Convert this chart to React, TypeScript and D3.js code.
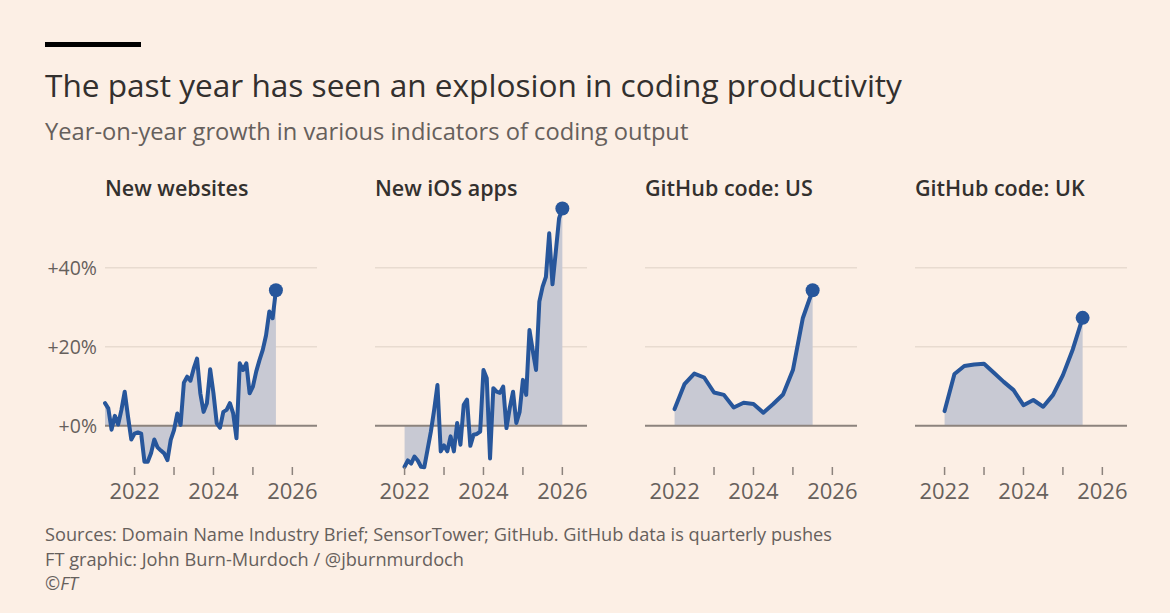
import React from "react";
import * as d3 from "d3";

// ---- data ----
const panelTitles = ["New websites", "New iOS apps", "GitHub code: US", "GitHub code: UK"];

// New websites: monthly, starting April 2021
const websitesStart = 2021.25;
const websites = [
  5.7, 4.4, -1.0, 2.5, 0.3, 4.0, 8.6, 2.3, -3.5, -2.0, -1.7, -2.0, -9.1, -9.1, -7.0, -3.5,
  -5.5, -6.3, -7.0, -8.7, -3.6, -1.1, 3.1, 0.2, 10.9, 12.4, 11.4, 14.5, 17.0, 8.2, 3.5, 5.7,
  14.3, 8.2, 0.6, -0.5, 3.5, 4.0, 5.7, 3.1, -3.2, 15.8, 14.1, 15.8, 8.2, 9.9, 13.7, 16.6,
  19.2, 22.9, 28.9, 27.2, 34.3,
];

// New iOS apps: monthly, starting January 2022
const iosStart = 2022;
const iosApps = [
  -10.4, -8.8, -9.6, -7.8, -8.8, -10.4, -10.5, -6.0, -1.5, 4.0, 10.3, -6.5, -5.0, -6.5, -2.7,
  -6.5, 0.7, -4.8, 5.3, 6.6, -5.1, -2.3, -2.1, -1.5, 14.1, 12.0, -8.3, 9.5, 8.6, 8.3, 9.9,
  -0.6, 4.5, 8.6, 0.7, 3.5, 11.6, 7.8, 24.2, 19.0, 14.1, 31.4, 35.2, 37.7, 48.7, 35.8, 44.0,
  52.5, 55.0,
];

// GitHub pushes: quarterly, starting Q1 2022
const githubStart = 2022;
const githubUS = [4.2, 10.5, 13.2, 12.2, 8.4, 7.8, 4.6, 5.8, 5.5, 3.3, 5.5, 7.9, 14.1, 27.2, 34.3];
const githubUK = [3.7, 13.1, 15.1, 15.5, 15.7, 13.4, 11.1, 9.0, 5.2, 6.5, 4.8, 7.8, 12.8, 19.3, 27.3];

const yTicks = [0, 20, 40];
const yTickLabels = ["+0%", "+20%", "+40%"];
const xTicks = [2022, 2023, 2024, 2025, 2026];
const xTickLabels = ["2022", "", "2024", "", "2026"];

const title = "The past year has seen an explosion in coding productivity";
const subtitle = "Year-on-year growth in various indicators of coding output";
const footer = [
  "Sources: Domain Name Industry Brief; SensorTower; GitHub. GitHub data is quarterly pushes",
  "FT graphic: John Burn-Murdoch / @jburnmurdoch",
];

// ---- build series ----
type Pt = { t: number; v: number };
const monthly = (start: number, vals: number[]): Pt[] => vals.map((v, i) => ({ t: start + i / 12, v }));
const quarterly = (start: number, vals: number[]): Pt[] => vals.map((v, i) => ({ t: start + i / 4, v }));

const series: Pt[][] = [
  monthly(websitesStart, websites),
  monthly(iosStart, iosApps),
  quarterly(githubStart, githubUS),
  quarterly(githubStart, githubUK),
];

// ---- layout ----
const W = 1170;
const H = 613;
const FONT = "'Open Sans', Lato, sans-serif";
const BG = "#fcefe5";
const LINE = "#27569b";
const FILL = "#c8c9d3";
const TEXT = "#33302e";
const MUTED = "#66605c";

const panelLeft = 105;
const panelWidth = 212;
const panelStep = 270;

const y = d3.scaleLinear().domain([-12, 58]).range([473.1, 196.6]);

export default function App() {
  return (
    <svg
      width={W}
      height={H}
      style={{ position: "fixed", left: 0, top: 0, display: "block" }}
      fontFamily={FONT}
    >
      <rect x={0} y={0} width={W} height={H} fill={BG} />
      <rect x={45} y={42} width={96} height={5} fill="#000" />
      <text x={45} y={97} fontSize={31.6} fill={TEXT}>
        {title}
      </text>
      <text x={45} y={140} fontSize={23.7} fill={MUTED}>
        {subtitle}
      </text>

      {series.map((data, p) => {
        const x0 = panelLeft + p * panelStep;
        const x = d3.scaleLinear().domain([2021.25, 2026.625]).range([x0, x0 + panelWidth]);
        const area = d3
          .area<Pt>()
          .x((d) => x(d.t))
          .y0(y(0))
          .y1((d) => y(d.v));
        const line = d3
          .line<Pt>()
          .x((d) => x(d.t))
          .y((d) => y(d.v));
        const last = data[data.length - 1];
        return (
          <g key={p}>
            <text x={x0} y={196} fontSize={21.5} fontWeight={600} fill={TEXT}>
              {panelTitles[p]}
            </text>
            {yTicks
              .filter((t) => t !== 0)
              .map((t) => (
                <line
                  key={t}
                  x1={x0}
                  x2={x0 + panelWidth}
                  y1={y(t)}
                  y2={y(t)}
                  stroke="#e8dbd0"
                  strokeWidth={1.5}
                />
              ))}
            {p === 0 &&
              yTicks.map((t, i) => (
                <text
                  key={t}
                  x={97}
                  y={y(t)}
                  dy="0.35em"
                  textAnchor="end"
                  fontSize={19.5}
                  fill={MUTED}
                >
                  {yTickLabels[i]}
                </text>
              ))}
            <path d={area(data) || ""} fill={FILL} />
            <line x1={x0} x2={x0 + panelWidth} y1={y(0)} y2={y(0)} stroke="#8c837d" strokeWidth={2} />
            <path
              d={line(data) || ""}
              fill="none"
              stroke={LINE}
              strokeWidth={4}
              strokeLinejoin="round"
              strokeLinecap="round"
            />
            <circle cx={x(last.t)} cy={y(last.v)} r={7} fill={LINE} />
            {xTicks.map((t, i) => (
              <g key={t}>
                <line x1={x(t)} x2={x(t)} y1={467} y2={475} stroke="#8c837d" strokeWidth={1.5} />
                {xTickLabels[i] && (
                  <text x={x(t)} y={499} textAnchor="middle" fontSize={22} fill={MUTED}>
                    {xTickLabels[i]}
                  </text>
                )}
              </g>
            ))}
          </g>
        );
      })}

      <text x={45} y={541} fontSize={18.2} fill={MUTED}>
        {footer[0]}
      </text>
      <text x={45} y={566} fontSize={18.2} fill={MUTED}>
        {footer[1]}
      </text>
      <text x={45} y={590} fontSize={18.2} fill={MUTED} fontStyle="italic">
        ©FT
      </text>
    </svg>
  );
}
